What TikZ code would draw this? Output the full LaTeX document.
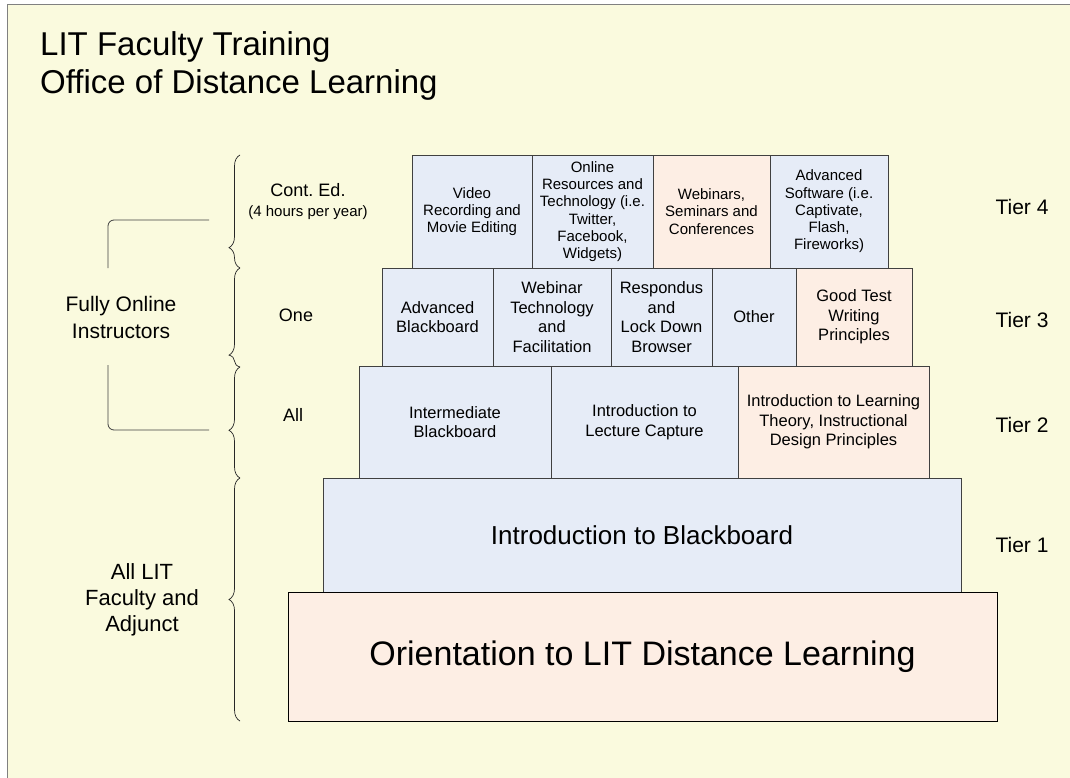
\documentclass[tikz,border=0pt]{standalone}
\usepackage{fontspec}
\setmainfont{Liberation Sans}
\usetikzlibrary{decorations.pathreplacing}
\definecolor{bgyellow}{RGB}{250,250,222}
\definecolor{boxblue}{RGB}{230,236,247}
\definecolor{boxpink}{RGB}{253,238,228}
\definecolor{edgegray}{RGB}{64,64,64}
\frenchspacing

\begin{document}
\begin{tikzpicture}[x=1pt, y=-1pt,
  tierbox/.style={draw=edgegray, line width=0.75pt, align=center, inner sep=0pt},
  blubox/.style={tierbox, fill=boxblue},
  pnkbox/.style={tierbox, fill=boxpink},
  small/.style={font=\fontsize{15}{17.3}\selectfont},
  mid/.style={font=\fontsize{16.5}{19.5}\selectfont},
  sidelabel/.style={align=center, font=\fontsize{18}{22}\selectfont},
  tierlabel/.style={font=\fontsize{21}{25}\selectfont},
  curly/.style={draw=black!85, line width=0.7pt, decorate},
  bracket/.style={draw=edgegray, line width=0.8pt, rounded corners=6pt}]

\useasboundingbox (0,0) rectangle (1070,778);
\draw[fill=bgyellow, draw=gray, line width=1pt] (7,5) rectangle (1100,800);

% title
\node[align=left, anchor=west, inner sep=0pt, font=\fontsize{33}{38}\selectfont] (title) at (40,66) {LIT Faculty Training\\Office of Distance Learning};

% tier 4
\node[blubox, small, minimum width=120, minimum height=113] (video) at (472,211.5) {Video\\Recording and\\Movie Editing};
\node[blubox, small, minimum width=121, minimum height=113] (online) at (592.5,211.5) {Online\\Resources and\\Technology (i.e.\\Twitter,\\Facebook,\\Widgets)};
\node[pnkbox, small, minimum width=117, minimum height=113] (webinars) at (711.5,211.5) {Webinars,\\Seminars and\\Conferences};
\node[blubox, small, minimum width=118, minimum height=113] (software) at (829,211.5) {Advanced\\Software (i.e.\\Captivate,\\Flash,\\Fireworks)};

% tier 3
\node[blubox, mid, minimum width=111, minimum height=98] (advbb) at (437.5,317) {Advanced\\Blackboard};
\node[blubox, mid, minimum width=118, minimum height=98] (webtech) at (552,317) {Webinar\\Technology\\and\\Facilitation};
\node[blubox, mid, minimum width=101, minimum height=98] (respondus) at (661.5,317) {Respondus\\and\\Lock Down\\Browser};
\node[blubox, mid, minimum width=84, minimum height=98] (other) at (754,317) {Other};
\node[pnkbox, mid, minimum width=116, minimum height=98] (testwriting) at (854,317) {Good Test\\Writing\\Principles};

% tier 2
\node[blubox, mid, minimum width=192, minimum height=112] (interbb) at (455,422) {Intermediate\\Blackboard};
\node[blubox, mid, minimum width=187, minimum height=112] (capture) at (644.5,422) {Introduction to\\Lecture Capture};
\node[pnkbox, mid, minimum width=191, minimum height=112] (theory) at (833.5,422) {Introduction to Learning\\Theory, Instructional\\Design Principles};

% tier 1 and base
\node[blubox, font=\fontsize{26}{31}\selectfont, minimum width=638, minimum height=114] (introbb) at (642,535) {Introduction to Blackboard};
\node[pnkbox, draw=black, font=\fontsize{34}{40}\selectfont, minimum width=709, minimum height=129] (orient) at (642.5,656.5) {Orientation to LIT Distance Learning};

% tier labels
\node[tierlabel] (tier4) at (1022,207) {Tier 4};
\node[tierlabel] (tier3) at (1022,320) {Tier 3};
\node[tierlabel] (tier2) at (1022,425) {Tier 2};
\node[tierlabel] (tier1) at (1022,545) {Tier 1};

% left side labels
\node[sidelabel] (conted) at (308,190) {Cont. Ed.};
\node[align=center, font=\fontsize{15}{17}\selectfont] (hours) at (308,213) {(4 hours per year)};
\node[sidelabel] (one) at (296,315) {One};
\node[sidelabel] (all) at (293,415) {All};
\node[align=center, font=\fontsize{21}{27}\selectfont] (fully) at (121,317) {Fully Online\\Instructors};
\node[align=center, font=\fontsize{22}{26}\selectfont] (alllit) at (142,600) {All LIT\\Faculty and\\Adjunct};

% braces
\coordinate (br0) at (240,155);
\coordinate (br1) at (240,268);
\coordinate (br2) at (240,367);
\coordinate (br3) at (240,478);
\coordinate (br4) at (240,721);
\draw[curly, decoration={brace, amplitude=11pt, aspect=0.18}] (br1) -- (br0);
\draw[curly, decoration={brace, amplitude=11pt, aspect=0.12}] (br2) -- (br1);
\draw[curly, decoration={brace, amplitude=11pt, aspect=0.43}] (br3) -- (br2);
\draw[curly, decoration={brace, amplitude=11pt, aspect=0.5}] (br4) -- (br3);

% fully online bracket
\coordinate (fo1) at (209,220);
\coordinate (fo1a) at (108,268);
\coordinate (fo2) at (209,430);
\coordinate (fo2a) at (108,365);
\draw[bracket] (fo1) -| (fo1a);
\draw[bracket] (fo2) -| (fo2a);
\end{tikzpicture}
\end{document}
